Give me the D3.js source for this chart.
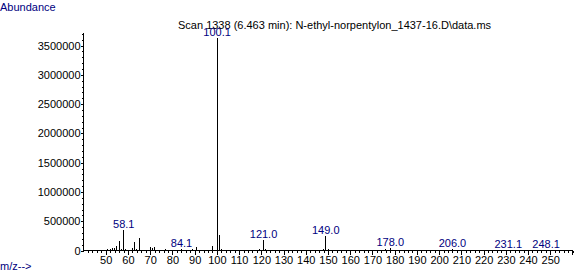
<!DOCTYPE html>
<html>
<head>
<meta charset="utf-8">
<script src="https://cdn.jsdelivr.net/npm/d3@7"></script>
<style>
  html, body { margin: 0; padding: 0; background: #fff; }
  svg { display: block; font-family: Arial, "Liberation Sans", sans-serif; }
  text { font-size: 11px; }
</style>
</head>
<body>
<svg id="chart" width="585" height="273"></svg>
<script>
// ---- data ----
const title = "Scan 1338 (6.463 min): N-ethyl-norpentylon_1437-16.D\\data.ms";
const yAxisTitle = "Abundance";
const xAxisTitle = "m/z-->";

const peakMz = [51, 52, 53, 54, 55, 56, 57, 58.1, 59, 62, 63, 64, 65, 66, 67, 69, 70, 71, 72, 74, 76, 77, 79,
  84.1, 86, 89, 90, 91, 93, 96, 98, 100.1, 101, 102, 104, 115, 119, 121.0, 122, 135, 147, 148, 149.0, 150,
  176, 177, 178.0, 206.0, 207, 231.1, 248.1];
const peakAbundance = [25000, 20000, 35000, 35000, 85000, 160000, 20000, 358000, 25000, 35000, 138000, 30000, 207000, 17000, 12000, 15000, 60000, 50000, 58000, 12000, 15000, 22000, 15000,
  34000, 15000, 20000, 15000, 57000, 10000, 15000, 70000, 3620000, 270000, 20000, 10000, 12000, 20000, 171000, 25000, 15000, 15000, 20000, 256000, 25000,
  20000, 15000, 43000, 26000, 12000, 12000, 8000];
const labeledMz = [100.1, 58.1, 84.1, 121.0, 149.0, 178.0, 206.0, 231.1, 248.1];

const xTickLabels = [50, 60, 70, 80, 90, 100, 110, 120, 130, 140, 150, 160, 170, 180, 190, 200, 210, 220, 230, 240, 250];
const xMinorTicks = d3.range(42, 261, 2);
const yTickLabels = [0, 500000, 1000000, 1500000, 2000000, 2500000, 3000000, 3500000];
const yMinorTicks = d3.range(0, 3700001, 100000);

// ---- layout ----
const svg = d3.select("#chart");
const x = d3.scaleLinear().domain([40, 260]).range([83.5, 572.5]);
const y = d3.scaleLinear().domain([0, 3500000]).range([250.5, 45.5]);
const navy = "#000080";

// x axis minor ticks
svg.append("g")
  .attr("transform", "translate(0,250.5)")
  .call(d3.axisBottom(x).tickValues(xMinorTicks).tickSize(2).tickFormat(""))
  .call(g => g.select(".domain").remove())
  .call(g => g.selectAll("line").attr("shape-rendering", "crispEdges").attr("stroke", "#000"));

// x axis major ticks + labels
svg.append("g")
  .attr("transform", "translate(0,250.5)")
  .call(d3.axisBottom(x).tickValues(xTickLabels).tickSize(4).tickPadding(2).tickFormat(d3.format("d")))
  .call(g => g.select(".domain").remove())
  .call(g => g.selectAll("line").attr("shape-rendering", "crispEdges").attr("stroke", "#000"))
  .call(g => g.selectAll("text").attr("font-size", 11).attr("font-family", "Arial, 'Liberation Sans', sans-serif").attr("fill", "#000"));

// y axis minor ticks
svg.append("g")
  .attr("transform", "translate(83.5,0)")
  .call(d3.axisLeft(y).tickValues(yMinorTicks).tickSize(2).tickFormat(""))
  .call(g => g.select(".domain").remove())
  .call(g => g.selectAll("line").attr("shape-rendering", "crispEdges").attr("stroke", "#000"));

// y axis major ticks + labels
svg.append("g")
  .attr("transform", "translate(83.5,0)")
  .call(d3.axisLeft(y).tickValues(yTickLabels).tickSize(3).tickPadding(0).tickFormat(d3.format("d")))
  .call(g => g.select(".domain").remove())
  .call(g => g.selectAll("line").attr("shape-rendering", "crispEdges").attr("stroke", "#000"))
  .call(g => g.selectAll("text").attr("font-size", 11).attr("font-family", "Arial, 'Liberation Sans', sans-serif").attr("fill", "#000"));

// axis lines
svg.append("line")
  .attr("x1", x(40)).attr("x2", x(40))
  .attr("y1", y(3720000)).attr("y2", y(0))
  .attr("stroke", "#000").attr("shape-rendering", "crispEdges");
svg.append("line")
  .attr("x1", x(40)).attr("x2", x(260))
  .attr("y1", y(0)).attr("y2", y(0))
  .attr("stroke", "#000").attr("shape-rendering", "crispEdges");
svg.append("line")
  .attr("x1", x(260)).attr("x2", x(260))
  .attr("y1", y(0)).attr("y2", y(0) + 4)
  .attr("stroke", "#000").attr("shape-rendering", "crispEdges");

// peaks
const peaks = peakMz.map((m, i) => ({ mz: m, ab: peakAbundance[i] }));
svg.append("g").selectAll("line").data(peaks).join("line")
  .attr("x1", d => Math.round(x(d.mz) - 0.5) + 0.5)
  .attr("x2", d => Math.round(x(d.mz) - 0.5) + 0.5)
  .attr("y1", y(0))
  .attr("y2", d => y(d.ab))
  .attr("stroke", "#000")
  .attr("shape-rendering", "crispEdges");

// title
svg.append("text").attr("x", 178).attr("y", 29).attr("fill", "#000").text(title);

// peak labels
svg.append("g").selectAll("text").data(peaks.filter(p => labeledMz.includes(p.mz))).join("text")
  .attr("x", d => x(d.mz))
  .attr("y", d => y(d.ab) - 2)
  .attr("text-anchor", "middle")
  .attr("fill", navy)
  .text(d => d.mz.toFixed(1));

// axis titles
svg.append("text").attr("x", 0).attr("y", 11).attr("fill", navy).text(yAxisTitle);
svg.append("text").attr("x", 0).attr("y", 270).attr("fill", navy).text(xAxisTitle);
</script>
</body>
</html>
